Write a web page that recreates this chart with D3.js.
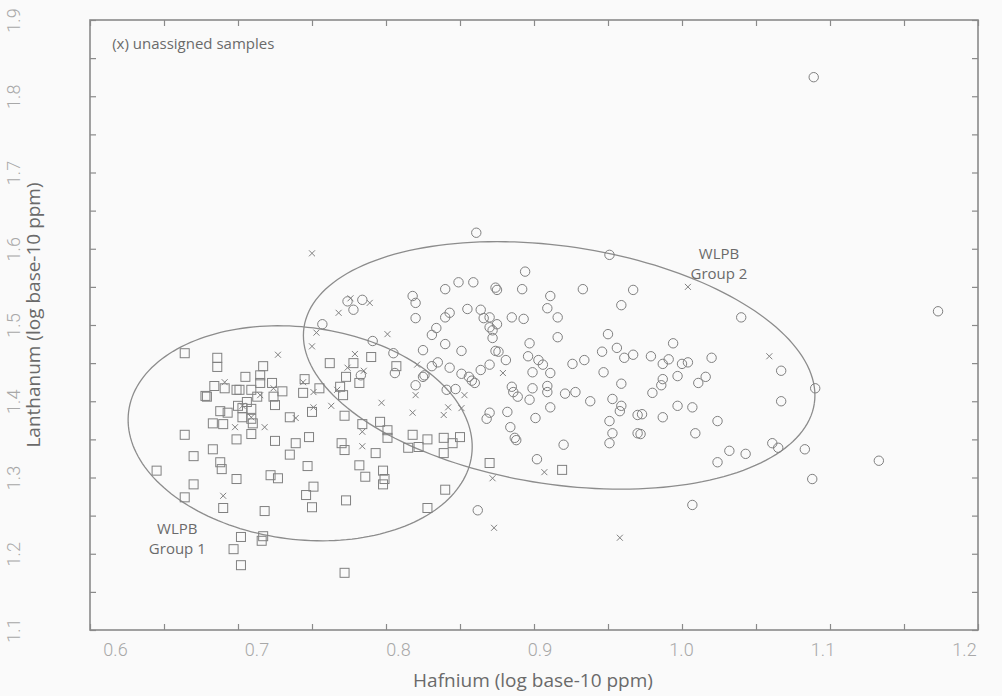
<!DOCTYPE html>
<html>
<head>
<meta charset="utf-8">
<script src="https://cdn.jsdelivr.net/npm/d3@7"></script>
<style>
  body { margin: 0; background: #fafafa; }
  svg { display: block; }
  .frame { fill: none; stroke: #8a8a8a; stroke-width: 1.6; }
  .axis path { display: none; }
  .axis line { stroke: #8a8a8a; stroke-width: 1.2; }
  .axis text { font-family: Roboto, sans-serif; font-weight: 300; font-size: 18px; fill: #a8a8a8; }
  .mark { fill: none; stroke: #808080; stroke-width: 1; }
  .ellipse { fill: none; stroke: #8c8c8c; stroke-width: 1.3; }
  .note { font-family: "Open Sans", sans-serif; fill: #6a6a6a; }
  .title { font-family: "Open Sans", sans-serif; font-size: 19px; fill: #6a6a6a; }
</style>
</head>
<body>
<div id="chart"></div>
<script>
// Hf vs La (log10 ppm) values
var group1 = [
  [0.664,1.463],[0.686,1.457],[0.686,1.445],[0.717,1.446],[0.705,1.432],[0.715,1.434],[0.723,1.424],
  [0.684,1.420],[0.691,1.417],[0.699,1.415],[0.701,1.415],[0.709,1.415],[0.715,1.424],[0.730,1.413],
  [0.678,1.407],[0.679,1.406],[0.713,1.406],[0.706,1.399],[0.724,1.406],[0.725,1.395],[0.700,1.394],
  [0.688,1.387],[0.693,1.385],[0.703,1.391],[0.709,1.390],[0.703,1.379],[0.709,1.377],[0.710,1.371],
  [0.683,1.371],[0.690,1.370],[0.735,1.379],[0.664,1.356],[0.699,1.350],[0.709,1.357],[0.725,1.348],
  [0.683,1.337],[0.670,1.328],[0.688,1.320],[0.689,1.311],[0.735,1.330],[0.645,1.309],[0.699,1.298],
  [0.722,1.303],[0.727,1.299],[0.670,1.291],[0.664,1.274],[0.690,1.260],[0.718,1.256],[0.702,1.222],
  [0.717,1.223],[0.716,1.217],[0.697,1.206],[0.702,1.185],
  [0.762,1.450],[0.778,1.450],[0.790,1.458],[0.773,1.432],[0.782,1.424],[0.807,1.446],[0.745,1.429],
  [0.744,1.411],[0.755,1.417],[0.769,1.419],[0.771,1.408],[0.750,1.386],[0.772,1.381],[0.784,1.370],
  [0.796,1.373],[0.801,1.362],[0.801,1.352],[0.748,1.353],[0.739,1.345],[0.770,1.345],[0.772,1.336],
  [0.793,1.332],[0.818,1.356],[0.828,1.350],[0.839,1.352],[0.850,1.353],[0.845,1.345],[0.822,1.340],
  [0.815,1.339],[0.839,1.332],[0.747,1.315],[0.782,1.316],[0.798,1.309],[0.786,1.301],[0.799,1.298],
  [0.798,1.291],[0.751,1.288],[0.746,1.277],[0.773,1.270],[0.750,1.261],[0.840,1.284],[0.828,1.260],
  [0.772,1.175],[0.870,1.319],[0.919,1.310]
];

var group2 = [
  [0.757,1.501],[0.774,1.531],[0.784,1.533],[0.778,1.520],[0.791,1.479],[0.783,1.434],[0.805,1.463],
  [0.806,1.437],[0.818,1.538],[0.820,1.529],[0.820,1.509],[0.820,1.421],[0.825,1.467],[0.826,1.434],
  [0.825,1.432],[0.831,1.487],[0.834,1.496],[0.835,1.451],[0.831,1.446],[0.840,1.547],[0.849,1.556],
  [0.859,1.556],[0.874,1.549],[0.875,1.546],[0.861,1.621],[0.840,1.510],[0.843,1.516],[0.855,1.521],
  [0.864,1.520],[0.866,1.509],[0.870,1.510],[0.875,1.501],[0.870,1.497],[0.872,1.493],[0.872,1.483],
  [0.840,1.475],[0.851,1.466],[0.874,1.466],[0.876,1.465],[0.881,1.454],[0.870,1.448],[0.864,1.441],
  [0.843,1.444],[0.851,1.436],[0.856,1.432],[0.858,1.427],[0.860,1.424],[0.841,1.415],[0.847,1.416],
  [0.870,1.385],[0.868,1.377],[0.862,1.257],
  [0.885,1.510],[0.893,1.508],[0.894,1.570],[0.892,1.547],[0.911,1.538],[0.909,1.522],[0.916,1.510],
  [0.933,1.547],[0.951,1.592],[0.967,1.546],[0.959,1.526],[0.916,1.484],[0.950,1.488],[0.897,1.476],
  [0.896,1.459],[0.903,1.454],[0.906,1.448],[0.911,1.437],[0.899,1.438],[0.946,1.465],[0.956,1.470],
  [0.961,1.457],[0.967,1.461],[0.926,1.449],[0.934,1.454],[0.947,1.438],[0.885,1.419],[0.886,1.412],
  [0.899,1.417],[0.909,1.420],[0.909,1.412],[0.889,1.406],[0.897,1.402],[0.921,1.410],[0.928,1.412],
  [0.938,1.400],[0.959,1.423],[0.953,1.403],[0.959,1.394],[0.958,1.387],[0.970,1.382],[0.911,1.392],
  [0.882,1.386],[0.901,1.378],[0.884,1.366],[0.887,1.352],[0.888,1.349],[0.951,1.374],[0.953,1.358],
  [0.951,1.345],[0.970,1.358],[0.920,1.343],[0.902,1.324],
  [1.040,1.510],[0.994,1.476],[0.979,1.459],[0.991,1.455],[0.987,1.449],[1.000,1.449],[1.004,1.451],
  [1.020,1.457],[1.067,1.440],[0.997,1.433],[0.987,1.429],[0.986,1.421],[0.980,1.411],[1.016,1.432],
  [1.011,1.424],[1.090,1.417],[0.973,1.383],[0.987,1.379],[0.997,1.394],[1.007,1.392],[1.067,1.400],
  [1.024,1.374],[0.972,1.357],[1.009,1.358],[1.032,1.335],[1.024,1.320],[1.043,1.331],[1.061,1.345],
  [1.065,1.339],[1.083,1.337],[1.088,1.298],[1.007,1.264],[1.089,1.825],[1.173,1.518],[1.133,1.322]
];

var unassigned = [
  [0.727,1.461],[0.691,1.425],[0.724,1.417],[0.715,1.408],[0.703,1.394],[0.709,1.379],[0.698,1.366],
  [0.718,1.366],[0.690,1.276],[0.776,1.535],[0.789,1.529],[0.768,1.516],[0.753,1.490],[0.750,1.472],
  [0.801,1.488],[0.779,1.462],[0.774,1.444],[0.785,1.440],[0.744,1.425],[0.751,1.412],[0.767,1.415],
  [0.821,1.448],[0.820,1.408],[0.853,1.408],[0.751,1.392],[0.763,1.394],[0.797,1.398],[0.842,1.392],
  [0.851,1.391],[0.818,1.385],[0.839,1.382],[0.739,1.378],[0.784,1.360],[0.784,1.341],[0.879,1.437],
  [0.872,1.299],[0.907,1.307],[0.873,1.234],[0.958,1.221],[0.750,1.594],[1.004,1.550],[1.059,1.459]
];

// group ellipses: centre and the two semi-axis vectors, in data units
var ellipseCentres = [[0.742, 1.358], [0.917, 1.447]];
var ellipseAxisA = [[0.1159, -0.0285], [0.1724, -0.0500]];
var ellipseAxisB = [[0.0090, 0.1381], [0.0119, 0.1544]];

var xTicks = d3.range(0.6, 1.2001, 0.05);
var xLabels = d3.range(0.6, 1.2001, 0.1);
var yTicks = d3.range(1.1, 1.9001, 0.05);

var svgWidth = 1002, svgHeight = 696;
var margin = { top: 20, right: 24, bottom: 66, left: 90 };
var width = svgWidth - margin.left - margin.right;
var height = svgHeight - margin.top - margin.bottom;

var svg = d3.select("#chart").append("svg")
  .attr("width", svgWidth)
  .attr("height", svgHeight);

var g = svg.append("g")
  .attr("transform", `translate(${margin.left}, ${margin.top})`);

var x = d3.scaleLinear().domain([0.6, 1.2]).range([0, width]);
var y = d3.scaleLinear().domain([1.1, 1.9]).range([height, 0]);
// the printed x labels sit a little inside the frame ends
var xLabelScale = d3.scaleLinear().domain([0.6, 1.2]).range([25, width - 14]);

var isMajor = v => Math.abs(v * 10 - Math.round(v * 10)) < 1e-6;

// axes, ticks pointing inward on all four sides
g.append("g").attr("class", "axis")
  .attr("transform", `translate(0, ${height})`)
  .call(d3.axisBottom(x).tickValues(xTicks).tickSizeInner(-6).tickSizeOuter(0).tickFormat(""));

g.append("g").attr("class", "axis")
  .attr("transform", `translate(0, ${height})`)
  .call(d3.axisBottom(xLabelScale).tickValues(xLabels).tickSize(0).tickPadding(13)
    .tickFormat(d3.format(".1f")));

g.append("g").attr("class", "axis")
  .call(d3.axisTop(x).tickValues(xTicks).tickSizeInner(-6).tickSizeOuter(0).tickFormat(""));

g.append("g").attr("class", "axis")
  .attr("transform", `translate(${width}, 0)`)
  .call(d3.axisRight(y).tickValues(yTicks).tickSizeInner(-6).tickSizeOuter(0).tickFormat(""));

var yAxis = g.append("g").attr("class", "axis")
  .call(d3.axisLeft(y).tickValues(yTicks).tickSizeInner(-6).tickSizeOuter(0)
    .tickFormat(d => isMajor(d) ? d3.format(".1f")(d) : ""));

yAxis.selectAll("text")
  .attr("transform", "rotate(-90)")
  .attr("text-anchor", "middle")
  .attr("x", 0)
  .attr("y", -70)
  .attr("dy", null);

g.append("rect").attr("class", "frame")
  .attr("width", width).attr("height", height);

// ellipses
var line = d3.line().x(d => x(d[0])).y(d => y(d[1]));
var steps = d3.range(0, 2 * Math.PI + 0.001, Math.PI / 90);
ellipseCentres.forEach(function (c, i) {
  var a = ellipseAxisA[i], b = ellipseAxisB[i];
  var pts = steps.map(t => [c[0] + a[0] * Math.cos(t) + b[0] * Math.sin(t),
                            c[1] + a[1] * Math.cos(t) + b[1] * Math.sin(t)]);
  g.append("path").attr("class", "ellipse").attr("d", line(pts));
});

// markers
g.append("g").selectAll("rect")
  .data(group1).enter().append("rect")
  .attr("class", "mark")
  .attr("x", d => x(d[0]) - 4.5)
  .attr("y", d => y(d[1]) - 4.5)
  .attr("width", 9).attr("height", 9);

g.append("g").selectAll("circle")
  .data(group2).enter().append("circle")
  .attr("class", "mark")
  .attr("cx", d => x(d[0]))
  .attr("cy", d => y(d[1]))
  .attr("r", 4.7);

g.append("g").selectAll("path")
  .data(unassigned).enter().append("path")
  .attr("class", "mark")
  .attr("d", d => {
    var px = x(d[0]), py = y(d[1]), s = 3;
    return `M${px - s},${py - s}L${px + s},${py + s}M${px - s},${py + s}L${px + s},${py - s}`;
  });

// annotations
g.append("text").attr("class", "note")
  .attr("x", x(0.615)).attr("y", y(1.862))
  .style("font-size", "15px")
  .text("(x) unassigned samples");

[["WLPB", "Group 1", 0.659, 1.226], ["WLPB", "Group 2", 1.025, 1.587]].forEach(function (l) {
  var t = g.append("text").attr("class", "note")
    .attr("text-anchor", "middle")
    .style("font-size", "15px");
  t.append("tspan").attr("x", x(l[2])).attr("y", y(l[3])).text(l[0]);
  t.append("tspan").attr("x", x(l[2])).attr("dy", "1.35em").text(l[1]);
});

// axis titles
g.append("text").attr("class", "title")
  .attr("text-anchor", "middle")
  .attr("x", width / 2 - 1)
  .attr("y", height + 57)
  .text("Hafnium (log base-10 ppm)");

g.append("text").attr("class", "title")
  .attr("text-anchor", "middle")
  .attr("transform", "rotate(-90)")
  .attr("x", -height / 2 + 10)
  .attr("y", -50)
  .text("Lanthanum (log base-10 ppm)");
</script>
</body>
</html>
